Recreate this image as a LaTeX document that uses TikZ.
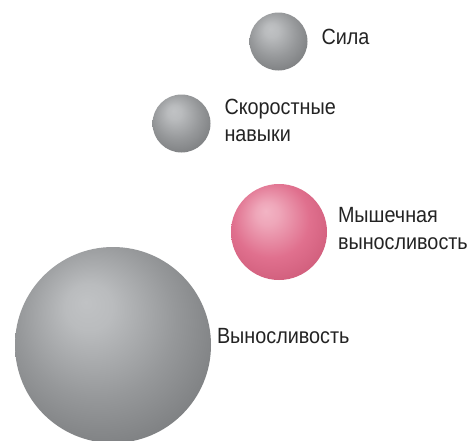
\documentclass[tikz,border=0pt]{standalone}
\usepackage{fontspec}
\setmainfont{Liberation Sans}[FakeStretch=0.9]
\usetikzlibrary{positioning}

\definecolor{greyhi}{RGB}{192,194,196}
\definecolor{greymid}{RGB}{150,152,154}
\definecolor{greylo}{RGB}{112,114,116}
\definecolor{pinkhi}{RGB}{242,180,196}
\definecolor{pinkmid}{RGB}{224,112,142}
\definecolor{pinklo}{RGB}{200,84,114}
\definecolor{labelgrey}{RGB}{35,35,35}

\pgfdeclareradialshading{greyball}{\pgfpoint{-7bp}{11bp}}{color(0bp)=(greyhi); color(6bp)=(greyhi!85!greymid); color(20bp)=(greymid); color(32bp)=(greylo!70!greymid); color(50bp)=(greylo)}
\pgfdeclareradialshading{pinkball}{\pgfpoint{-7bp}{11bp}}{color(0bp)=(pinkhi); color(6bp)=(pinkhi!80!pinkmid); color(20bp)=(pinkmid); color(32bp)=(pinklo!70!pinkmid); color(50bp)=(pinklo)}

\tikzset{
    sphere/.style={circle, draw=none, inner sep=0pt, outer sep=0pt, shade, shading=#1},
    sphere/.default=greyball,
    lbl/.style={inner sep=0pt, outer sep=0pt, align=left, text=labelgrey,
        font=\fontsize{22}{27}\selectfont}
}

\begin{document}
\begin{tikzpicture}[x=1pt, y=-1pt]
    \clip (0,0) rectangle (469,440);
    % Spheres
    \foreach \nm/\cx/\cy/\dd/\sh in {sila/278.5/41.5/58/greyball, speed/181.5/123.5/58/greyball, muscle/279/232/96/pinkball, endur/113/345/196/greyball}
        \node[sphere=\sh, minimum size=\dd pt] (\nm) at (\cx,\cy) {};
    % Labels
    \node[lbl, right=14pt of sila, yshift=5pt] (silaT) {Сила};
    \node[lbl, right=14pt of speed, yshift=3pt] (speedT) {Скоростные\\навыки};
    \node[lbl, right=11pt of muscle, yshift=3pt] (muscleT) {Мышечная\\выносливость};
    \node[lbl, right=6pt of endur, yshift=9pt] (endurT) {Выносливость};
\end{tikzpicture}
\end{document}
